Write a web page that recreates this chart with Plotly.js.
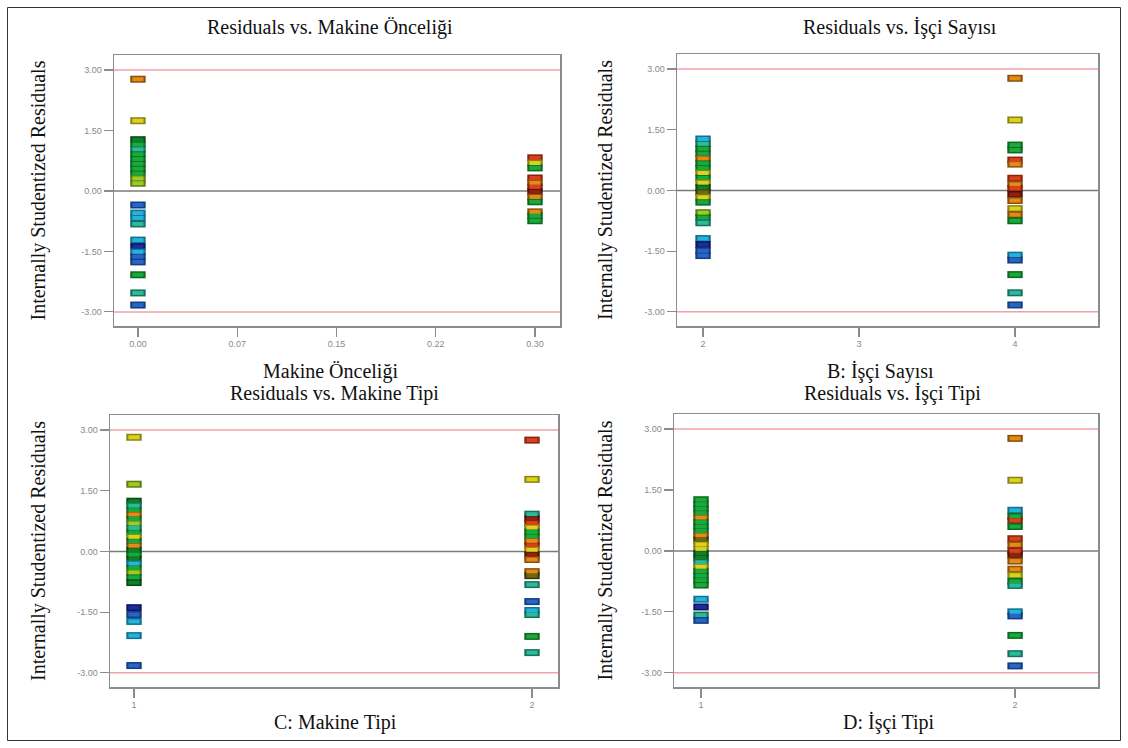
<!DOCTYPE html>
<html>
<head>
<meta charset="utf-8">
<script src="https://cdn.plot.ly/plotly-3.0.1.min.js"></script>
<style>html,body{margin:0;padding:0;background:#fff;}#chart{width:1128px;height:748px;}</style>
</head>
<body>
<div id="chart"></div>
<script>
// ---- Data ----
const panelTitles = ["Residuals vs. Makine Önceliği", "Residuals vs. İşçi Sayısı", "Residuals vs. Makine Tipi", "Residuals vs. İşçi Tipi"];
const xTitles = ["Makine Önceliği", "B: İşçi Sayısı", "C: Makine Tipi", "D: İşçi Tipi"];
const yTitle = "Internally Studentized Residuals";
const yTickVals = [-3, -1.5, 0, 1.5, 3];
const yTickText = ["-3.00", "-1.50", "0.00", "1.50", "3.00"];
const aTickVals = [0, 0.075, 0.15, 0.225, 0.3];
const aTickText = ["0.00", "0.07", "0.15", "0.22", "0.30"];
const bTickVals = [2, 3, 4];
const bTickText = ["2", "3", "4"];
const cTickVals = [1, 2];
const cTickText = ["1", "2"];
const dTickVals = [1, 2];
const dTickText = ["1", "2"];

// Panel A: Makine Önceliği levels
const aLevels = [0, 0.3];
const aLowRes = [2.77, 1.74, 1.27, 1.15, 1.03, 0.91, 0.79, 0.67, 0.55, 0.43, 0.31, 0.19, -0.35, -0.55, -0.67, -0.82, -1.22, -1.38, -1.51, -1.63, -1.76, -2.08, -2.53, -2.83];
const aLowCol = ["O", "Y", "DG", "G", "T", "G", "G", "G", "G", "G", "YG", "YG", "B", "C", "C", "T", "C", "DB", "C", "B", "B", "G", "T", "B"];
const aHighRes = [0.82, 0.69, 0.57, 0.32, 0.20, 0.10, -0.02, -0.15, -0.27, -0.52, -0.62, -0.74];
const aHighCol = ["R", "Y", "G", "R", "O", "R", "DR", "O", "G", "O", "G", "G"];

// Panel B: İşçi Sayısı levels
const bLevels = [2, 4];
const bLowRes = [1.27, 1.15, 1.03, 0.91, 0.79, 0.67, 0.55, 0.43, 0.31, 0.19, 0.07, -0.05, -0.17, -0.29, -0.55, -0.67, -0.80, -1.19, -1.34, -1.49, -1.61];
const bLowCol = ["C", "T", "G", "G", "O", "G", "G", "Y", "G", "Y", "DG", "OL", "Y", "G", "YG", "G", "T", "C", "DB", "B", "B"];
const bHighRes = [2.77, 1.74, 1.12, 1.00, 0.75, 0.65, 0.30, 0.15, 0.05, -0.10, -0.25, -0.45, -0.60, -0.75, -1.60, -1.72, -2.08, -2.53, -2.83];
const bHighCol = ["O", "Y", "G", "G", "R", "O", "R", "O", "R", "DR", "O", "Y", "O", "G", "C", "B", "G", "T", "B"];

// Panel C: Makine Tipi levels
const cLevels = [1, 2];
const cLowRes = [2.82, 1.66, 1.24, 1.13, 1.02, 0.91, 0.80, 0.69, 0.58, 0.47, 0.36, 0.25, 0.14, 0.03, -0.08, -0.19, -0.30, -0.41, -0.52, -0.64, -0.77, -1.39, -1.56, -1.73, -2.08, -2.82];
const cLowCol = ["Y", "YG", "DG", "T", "G", "O", "G", "YG", "T", "G", "Y", "G", "O", "DG", "G", "DG", "C", "G", "YG", "G", "DG", "DB", "B", "C", "C", "B"];
const cHighRes = [2.75, 1.78, 0.92, 0.81, 0.70, 0.59, 0.48, 0.37, 0.26, 0.15, 0.04, -0.08, -0.20, -0.50, -0.60, -0.82, -1.24, -1.46, -1.56, -2.10, -2.50];
const cHighCol = ["R", "Y", "T", "DR", "R", "Y", "G", "G", "O", "R", "Y", "DR", "O", "O", "OL", "T", "B", "C", "T", "G", "T"];

// Panel D: İşçi Tipi levels
const dLevels = [1, 2];
const dLowRes = [1.26, 1.15, 1.04, 0.93, 0.82, 0.71, 0.60, 0.49, 0.38, 0.27, 0.16, 0.05, -0.06, -0.17, -0.28, -0.39, -0.50, -0.61, -0.72, -0.84, -1.19, -1.38, -1.58, -1.71];
const dLowCol = ["G", "G", "G", "G", "O", "G", "G", "G", "O", "OL", "Y", "Y", "DG", "DG", "T", "Y", "G", "G", "G", "G", "C", "DB", "T", "B"];
const dHighRes = [2.77, 1.74, 1.00, 0.85, 0.75, 0.60, 0.30, 0.15, 0.00, -0.10, -0.25, -0.45, -0.60, -0.75, -0.85, -1.50, -1.60, -2.08, -2.53, -2.83];
const dHighCol = ["O", "Y", "C", "G", "R", "G", "R", "O", "R", "DR", "O", "O", "Y", "G", "T", "C", "B", "G", "T", "B"];

// ---- Styling ----
const palette = {DB: "#1b2ea0", B: "#2866c6", C: "#24b4da", T: "#2cba98", G: "#1aaa3c", DG: "#0f7f2a",
  YG: "#9ccb22", Y: "#dcd21e", O: "#e48a16", R: "#d9401c", DR: "#8e2210", OL: "#6d6a12"};
const darker = {DB: "#0b1660", B: "#143c80", C: "#107090", T: "#157060", G: "#0b6a20", DG: "#064a16",
  YG: "#5e7c10", Y: "#8a8410", O: "#8a500a", R: "#86240c", DR: "#501006", OL: "#3a3808"};

function pts(level, res, col, xa, ya) {
  const base = {type: "scatter", mode: "markers", xaxis: xa, yaxis: ya, hoverinfo: "x+y", showlegend: false,
    x: res.map(() => level), y: res};
  return [
    Object.assign({}, base, {marker: {symbol: "line-ew", size: 11, line: {width: 7, color: col.map(c => darker[c])}}}),
    Object.assign({}, base, {marker: {symbol: "line-ew", size: 8, line: {width: 4, color: col.map(c => palette[c])}}})
  ];
}

const data = [].concat(
  pts(aLevels[0], aLowRes, aLowCol, "x", "y"),
  pts(aLevels[1], aHighRes, aHighCol, "x", "y"),
  pts(bLevels[0], bLowRes, bLowCol, "x2", "y2"),
  pts(bLevels[1], bHighRes, bHighCol, "x2", "y2"),
  pts(cLevels[0], cLowRes, cLowCol, "x3", "y3"),
  pts(cLevels[1], cHighRes, cHighCol, "x3", "y3"),
  pts(dLevels[0], dLowRes, dLowCol, "x4", "y4"),
  pts(dLevels[1], dHighRes, dHighCol, "x4", "y4")
);

const W = 1128, H = 748;
const px = v => v / W, py = v => 1 - v / H;
const boxes = [
  {l: 114, r: 560, t: 55, b: 326, tc: 330, ty: 27, xc: 330, xy: 371, yx: 38},
  {l: 677, r: 1098, t: 54, b: 326, tc: 900, ty: 27, xc: 880, xy: 371, yx: 605},
  {l: 110, r: 558, t: 415, b: 687, tc: 334, ty: 393, xc: 335, xy: 722, yx: 38},
  {l: 674, r: 1098, t: 414, b: 687, tc: 892, ty: 393, xc: 889, xy: 722, yx: 605}
];
const xRanges = [[-0.0181, 0.3189], [1.833, 4.532], [0.9397, 2.0653], [0.914, 2.264]];
const xTicks = [[aTickVals, aTickText], [bTickVals, bTickText], [cTickVals, cTickText], [dTickVals, dTickText]];

const axisCommon = {
  showline: true, mirror: true, linecolor: "#8c8c8c", linewidth: 1.5,
  ticks: "outside", ticklen: 9, tickcolor: "#8c8c8c", tickwidth: 1.2,
  showgrid: false, zeroline: false, fixedrange: true,
  tickfont: {family: "Liberation Sans, Arial, sans-serif", size: 9, color: "#8a8a8a"}
};

const layout = {
  width: W, height: H, margin: {l: 0, r: 0, t: 0, b: 0},
  paper_bgcolor: "#ffffff", plot_bgcolor: "#ffffff", showlegend: false,
  shapes: [], annotations: []
};

const serif = {family: "Liberation Serif, Times New Roman, serif", size: 20, color: "#111"};
boxes.forEach((bx, i) => {
  const n = i === 0 ? "" : String(i + 1);
  layout["xaxis" + n] = Object.assign({}, axisCommon, {
    domain: [px(bx.l), px(bx.r)], range: xRanges[i], anchor: "y" + n,
    tickmode: "array", tickvals: xTicks[i][0], ticktext: xTicks[i][1]
  });
  layout["yaxis" + n] = Object.assign({}, axisCommon, {
    domain: [py(bx.b), py(bx.t)], range: [-3.35, 3.37], anchor: "x" + n,
    tickmode: "array", tickvals: yTickVals, ticktext: yTickText
  });
  const xr = "x" + n + " domain", yr = "y" + n;
  [[3, "#f2a0aa"], [-3, "#f2a0aa"], [0, "#7a7a7a"]].forEach(([v, c]) => {
    layout.shapes.push({type: "line", xref: xr, yref: yr, x0: 0, x1: 1, y0: v, y1: v,
      line: {color: c, width: 1.5}, layer: "below"});
  });
  layout.annotations.push({text: panelTitles[i], xref: "paper", yref: "paper", x: px(bx.tc), y: py(bx.ty),
    showarrow: false, font: serif, xanchor: "center", yanchor: "middle"});
  layout.annotations.push({text: xTitles[i], xref: "paper", yref: "paper", x: px(bx.xc), y: py(bx.xy),
    showarrow: false, font: serif, xanchor: "center", yanchor: "middle"});
  layout.annotations.push({text: yTitle, xref: "paper", yref: "paper", x: px(bx.yx), y: py((bx.t + bx.b) / 2),
    showarrow: false, font: serif, textangle: -90, xanchor: "center", yanchor: "middle"});
});
layout.shapes.push({type: "rect", xref: "paper", yref: "paper", x0: px(7.5), x1: px(1120.5), y0: py(740.5), y1: py(7.5),
  line: {color: "#333", width: 1}, layer: "below"});

Plotly.newPlot("chart", data, layout, {displayModeBar: false, staticPlot: true});
</script>
</body>
</html>
